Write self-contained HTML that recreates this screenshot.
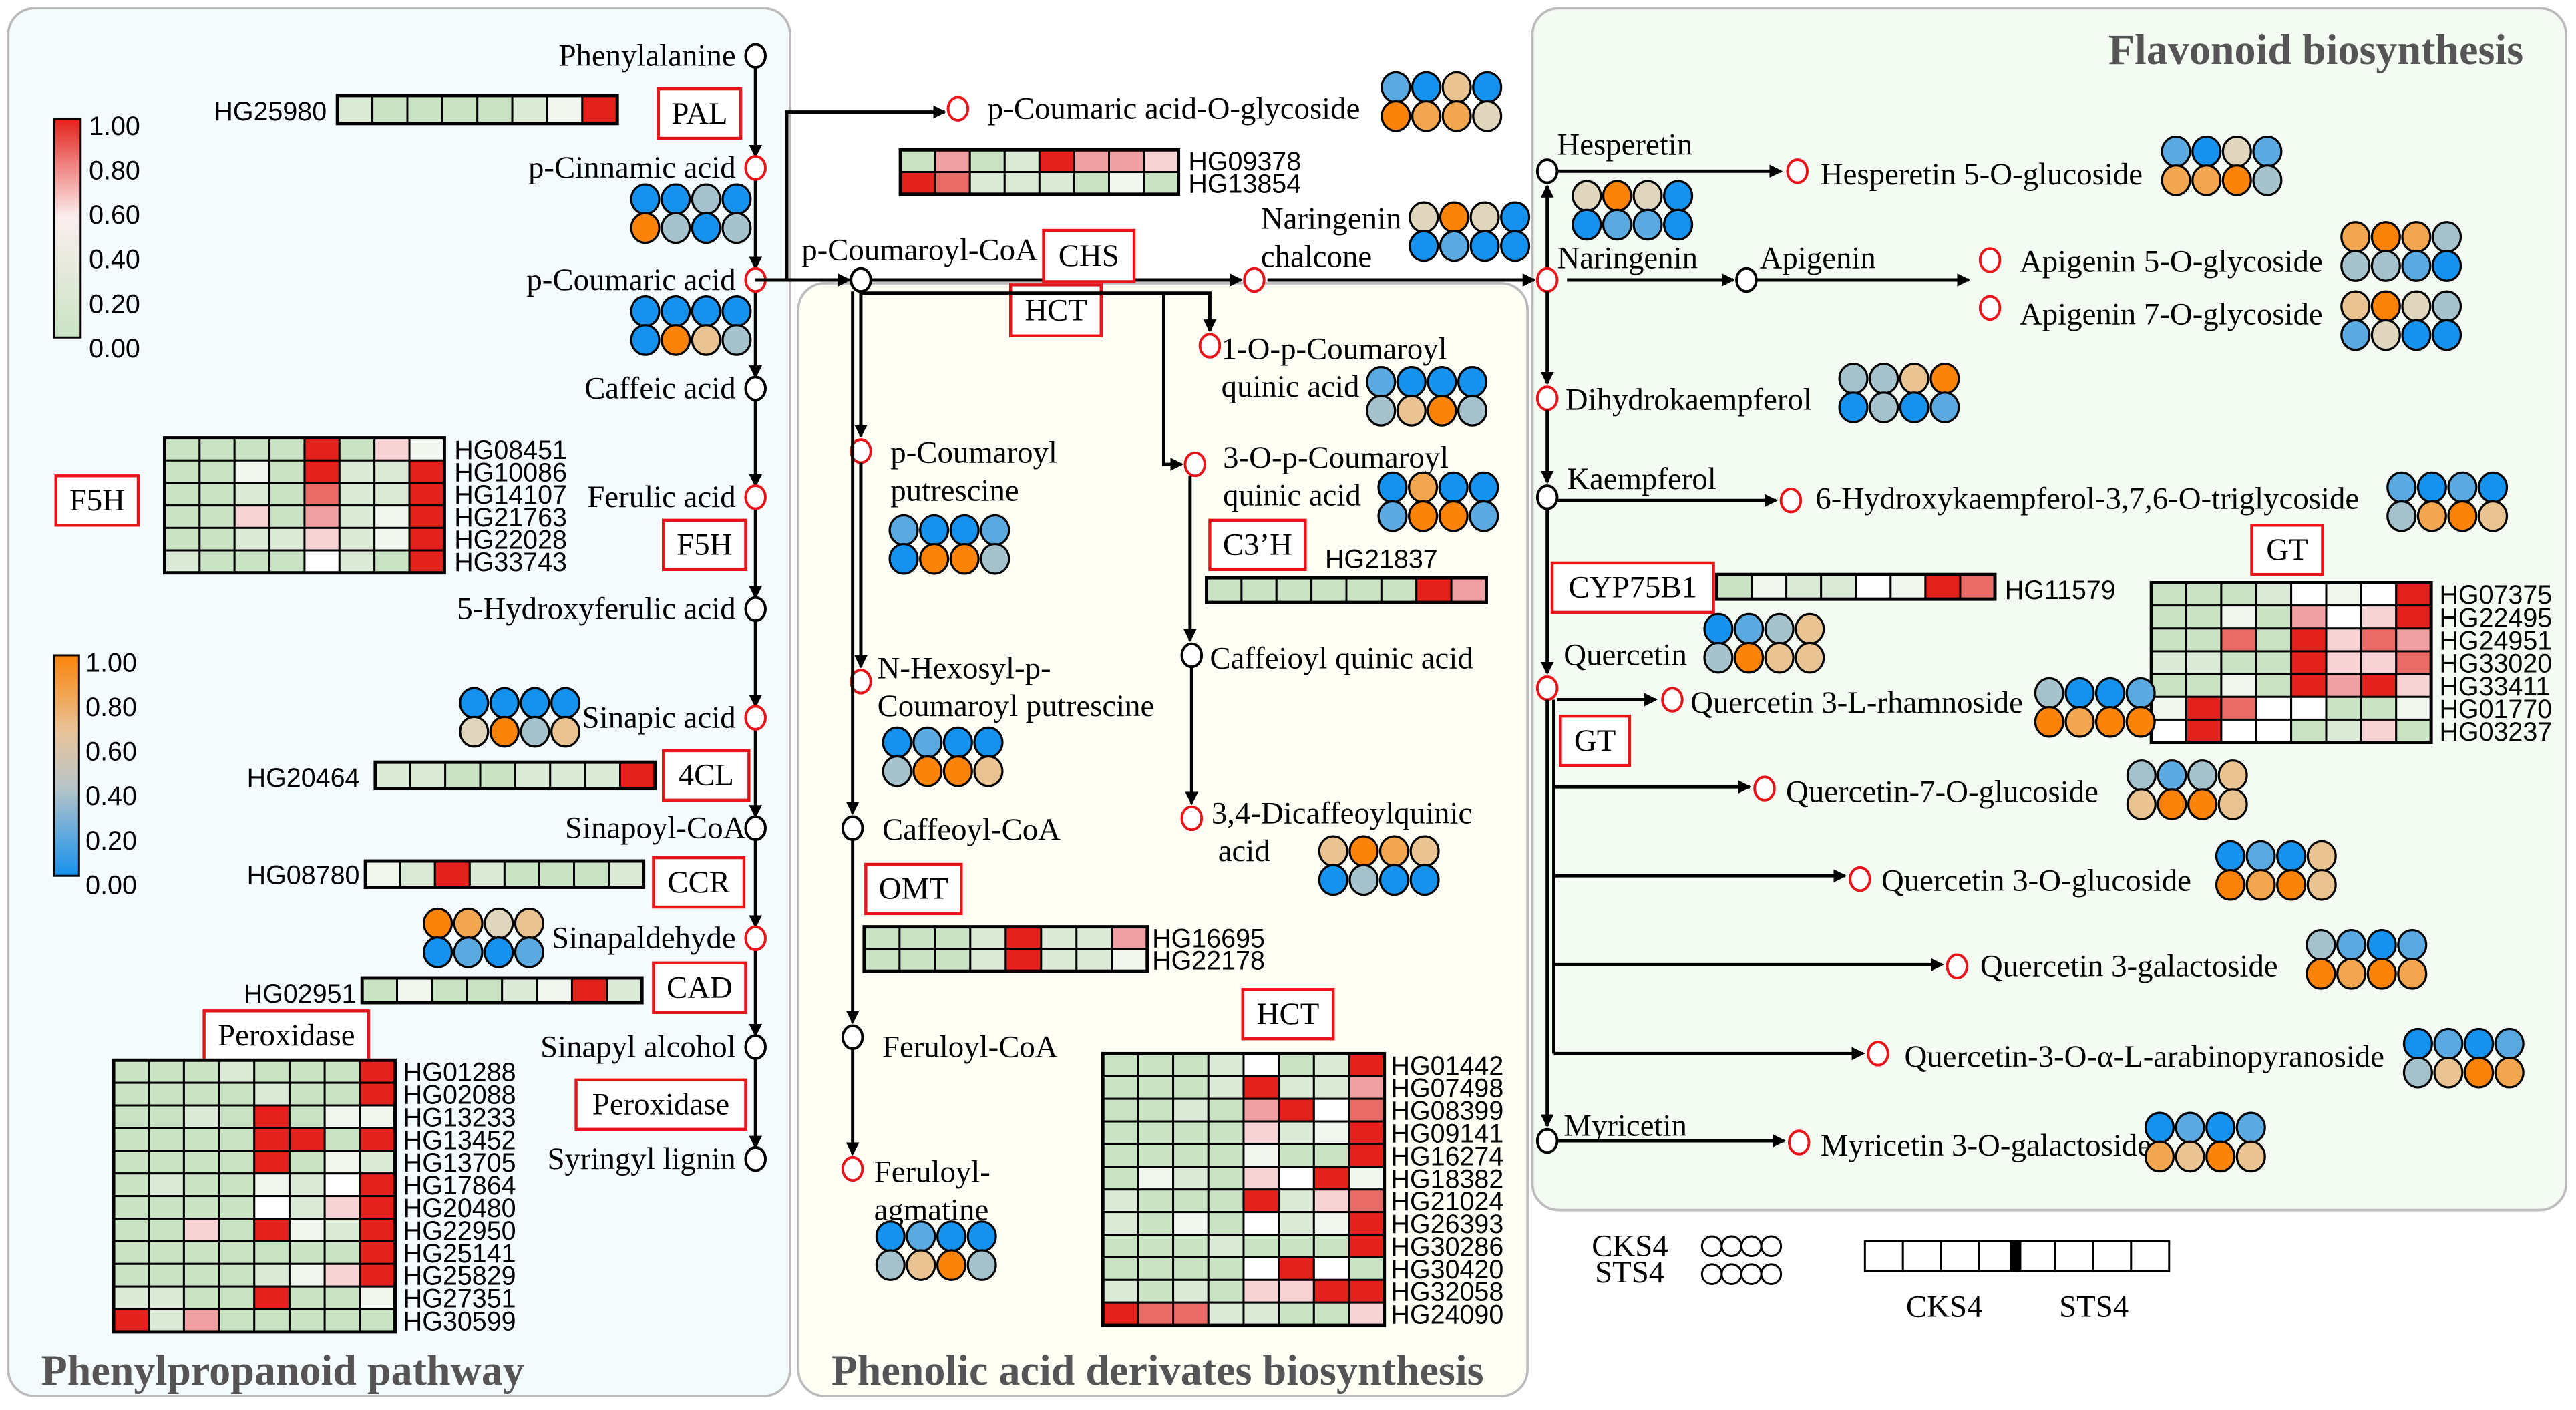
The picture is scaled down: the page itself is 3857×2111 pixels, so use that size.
<!DOCTYPE html>
<html><head><meta charset="utf-8">
<style>
html,body{margin:0;padding:0;background:#fff;}
svg{display:block;}
.s{font-family:"Liberation Serif",serif;font-size:19px;fill:#000;}
.a{font-family:"Liberation Sans",sans-serif;font-size:16px;fill:#000;}
.t{font-family:"Liberation Serif",serif;font-size:26px;font-weight:bold;fill:#555;}
</style></head>
<body>
<svg id="g" width="3857" height="2111" viewBox="0 0 1565 856.5" preserveAspectRatio="none" xmlns="http://www.w3.org/2000/svg">
<defs>
<marker id="ar" markerWidth="8" markerHeight="8" refX="7" refY="4" orient="auto" markerUnits="userSpaceOnUse"><path d="M0,0 L8,4 L0,8 z" fill="#000"/></marker>
<linearGradient id="lg1" x1="0" y1="0" x2="0" y2="1"><stop offset="0" stop-color="#e4211c"/><stop offset="0.45" stop-color="#fbeeee"/><stop offset="1" stop-color="#c9e3c4"/></linearGradient>
<linearGradient id="lg2" x1="0" y1="0" x2="0" y2="1"><stop offset="0" stop-color="#fb8309"/><stop offset="0.35" stop-color="#e8c49a"/><stop offset="0.6" stop-color="#b7c4c8"/><stop offset="1" stop-color="#1591ee"/></linearGradient>
</defs>
<rect x="5" y="5" width="475" height="843" rx="16" fill="#f3fbfd" stroke="#bbb" stroke-width="1.5"/>
<rect x="485" y="172" width="443" height="676" rx="16" fill="#fefef5" stroke="#bbb" stroke-width="1.5"/>
<rect x="931" y="5" width="628" height="730" rx="16" fill="#f3fbf3" stroke="#bbb" stroke-width="1.5"/>
<g id="c"></g>
</svg>
<script>
var NS="http://www.w3.org/2000/svg",C=document.getElementById("c");
function el(n,a,txt){var e=document.createElementNS(NS,n);for(var k in a)e.setAttribute(k,a[k]);if(txt!=null)e.textContent=txt;C.appendChild(e);return e;}
function T(x,y,s,cls,anchor){return el("text",{x:x,y:y,"class":cls||"s","text-anchor":anchor||"start"},s);}
function L(pts,arrow){el("polyline",{points:pts,fill:"none",stroke:"#000","stroke-width":2,"marker-end":arrow?"url(#ar)":""});}
function N(x,y,red){el("ellipse",{cx:x,cy:y,rx:6,ry:7,fill:"#fff",stroke:red?"#e8141a":"#000","stroke-width":1.6});}
function BX(x,y,w,h,s){el("rect",{x:x,y:y,width:w,height:h,fill:"#fff",stroke:"#e8141a","stroke-width":1.8});T(x+w/2,y+h/2+6,s,"s","middle");}
var HC={g:"#c9e3c4",h:"#dcebd8",w:"#f1f7ef",W:"#ffffff",p:"#f8d3d5",q:"#f0a0a2",r:"#ea6a68",R:"#e4211c"};
function HM(x,y,w,h,rows,labels,lx,lalign){var n=rows.length,m=rows[0].length,cw=w/m,rh=h/n;
 for(var i=0;i<n;i++)for(var j=0;j<m;j++)el("rect",{x:x+j*cw,y:y+i*rh,width:cw,height:rh,fill:HC[rows[i][j]],stroke:"#000","stroke-width":1.2});
 el("rect",{x:x,y:y,width:w,height:h,fill:"none",stroke:"#000","stroke-width":2});
 if(labels)for(var i=0;i<labels.length;i++)T(lx,y+(i+1)*rh-1,labels[i],"a",lalign);}
var CC={B:"#1591ee",L:"#5aa9e0",G:"#a6c3cd",E:"#e0d5bd",T:"#eac393",P:"#f2a650",O:"#fb8309"};
function CG(x,y,r1,r2){var rs=[r1,r2];for(var i=0;i<2;i++)for(var j=0;j<4;j++)el("ellipse",{cx:x+j*18.5,cy:y+i*17.5,rx:8.5,ry:9,fill:CC[rs[i][j]],stroke:"#000","stroke-width":1.3});}

el("rect",{x:33,y:72,width:16,height:133,fill:"url(#lg1)",stroke:"#000","stroke-width":1.2});
["1.00","0.80","0.60","0.40","0.20","0.00"].forEach(function(s,i){T(54,82+i*27,s,"a");});
el("rect",{x:33,y:398,width:15,height:134,fill:"url(#lg2)",stroke:"#000","stroke-width":1.2});
["1.00","0.80","0.60","0.40","0.20","0.00"].forEach(function(s,i){T(52,408+i*27,s,"a");});

var LN=[["Phenylalanine",34,0],["p-Cinnamic acid",102,1],["p-Coumaric acid",170,1],["Caffeic acid",236,0],["Ferulic acid",302,1],["5-Hydroxyferulic acid",370,0],["Sinapic acid",436,1],["Sinapoyl-CoA",503,0],["Sinapaldehyde",570,1],["Sinapyl alcohol",636,0],["Syringyl lignin",704,0]];
for(var i=0;i<LN.length-1;i++)L("459,"+(LN[i][1]+7)+" 459,"+(LN[i+1][1]-7),1);
LN.forEach(function(n){N(459,n[1],n[2]);T(n[0]=="Sinapoyl-CoA"?453:447,n[1]+6,n[0],"s","end");});
T(130,73,"HG25980","a");HM(205,58,170,17,["hgggghwR"]);BX(400,54,50,30,"PAL");
CG(392,121,"BBGB","OGBG");CG(392,189,"BBBB","BOTG");
HM(100,266,170,82,["ggggRgpw","ggwgRhhR","gghgrhhR","ggpgqhwR","gghhphwR","hgggWhgR"],["HG08451","HG10086","HG14107","HG21763","HG22028","HG33743"],276);
BX(34,289,50,30,"F5H");BX(403,316,50,30,"F5H");
CG(288,427,"BBBB","EOGT");
T(150,478,"HG20464","a");HM(228,463,170,16,["hhgghhhR"]);BX(403,456,52,30,"4CL");
T(150,537,"HG08780","a");HM(222,523,169,16,["whRhgggh"]);BX(397,521,55,30,"CCR");
CG(266,561,"OPET","BLBL");
T(148,609,"HG02951","a");HM(220,594,170,15,["gwgghwRh"]);BX(397,585,56,30,"CAD");
BX(124,614,100,30,"Peroxidase");BX(350,656,103,30,"Peroxidase");
HM(69,644,171,165,["ggghgggR","gggghggR","gghgRgww","ggggRRgR","ggggRgwh","ghggwhWR","ggggWhpR","ggpgRwhR","gggggggR","gggghwpR","hhggRggw","Rhqggggg"],["HG01288","HG02088","HG13233","HG13452","HG13705","HG17864","HG20480","HG22950","HG25141","HG25829","HG27351","HG30599"],245);
T(25,841,"Phenylpropanoid pathway","t");

L("459,170 478,170 478,68 574,68",1);N(582,66,1);T(600,72,"p-Coumaric acid-O-glycoside");
CG(848,53,"LBTB","OPPE");
HM(547,91,169,27,["gqghRqqp","Rrhhhgwg"],["HG09378","HG13854"],722);
L("459,170 516,170",1);N(523,170,0);L("529,170 754,170",1);N(762,170,1);L("770,170 932,170",1);
T(487,158,"p-Coumaroyl-CoA");BX(634,140,55,31,"CHS");BX(614,173,55,31,"HCT");
T(766,139,"Naringenin");T(766,162,"chalcone");CG(865,132,"EOEB","BLBB");
L("523,178 735,178 735,201",1);N(735,210,1);
L("707,178 707,282 718,282",1);N(726,282,1);
L("523,177 523,265",1);N(523,274,1);L("523,281 523,405",1);N(523,414,1);
L("518,177 518,494",1);N(518,503,0);L("518,510 518,621",1);N(518,630,0);L("518,637 518,701",1);N(518,710,1);
T(541,281,"p-Coumaroyl");T(541,304,"putrescine");CG(549,322,"LBBL","BOOG");
T(533,412,"N-Hexosyl-p-");T(533,435,"Coumaroyl putrescine");CG(545,451,"BLBB","GOOT");
T(536,510,"Caffeoyl-CoA");BX(526,525,58,30,"OMT");
HM(525,563,172,27,["ggghRhhq","ggghRhhw"],["HG16695","HG22178"],700);
T(536,642,"Feruloyl-CoA");T(531,718,"Feruloyl-");T(531,741,"agmatine");CG(541,751,"BLBB","GTOG");
T(742,218,"1-O-p-Coumaroyl");T(742,241,"quinic acid");CG(839,232,"LBBB","GTOG");
T(743,284,"3-O-p-Coumaroyl");T(743,307,"quinic acid");CG(846,296,"BPBB","LOOL");
BX(735,316,58,30,"C3’H");T(805,345,"HG21837","a");HM(733,351,170,15,["ggggggRq"]);
L("723,289 723,389",1);N(724,398,0);T(735,406,"Caffeioyl quinic acid");
L("724,405 724,488",1);N(724,497,1);T(736,500,"3,4-Dicaffeoylquinic");T(740,523,"acid");CG(810,517,"TOPT","BGBB");
BX(755,601,55,30,"HCT");
HM(670,640,171,165,["ggghWghR","ggghRhhq","gghgqRWr","ggggphwR","ggggwggR","gwhgpWRw","hgggRhpr","hgwgWhwR","ggghgggR","ggggWRWg","hghgppRR","Rrrhhggp"],["HG01442","HG07498","HG08399","HG09141","HG16274","HG18382","HG21024","HG26393","HG30286","HG30420","HG32058","HG24090"],845);
T(505,841,"Phenolic acid derivates biosynthesis","t");

T(1533,39,"Flavonoid biosynthesis","t","end");
L("940,163 940,113",1);N(940,104,0);T(946,94,"Hesperetin");
L("946,104 1082,104",1);N(1092,104,1);T(1106,112,"Hesperetin 5-O-glucoside");CG(1322,92,"LBEL","PPOG");
CG(964,119,"EOEB","BLLB");
N(940,170,1);T(946,163,"Naringenin");L("952,170 1053,170",1);N(1061,170,0);T(1069,163,"Apigenin");L("1067,170 1196,170",1);
N(1209,158,1);T(1227,165,"Apigenin 5-O-glycoside");CG(1431,144,"POPG","GGLB");
N(1209,187,1);T(1227,197,"Apigenin 7-O-glycoside");CG(1431,186,"TOEG","LEBB");
L("940,177 940,233",1);N(940,242,1);T(951,249,"Dihydrokaempferol");CG(1126,230,"GGTO","BGBL");
L("940,249 940,293",1);N(940,302,0);T(952,297,"Kaempferol");
L("946,304 1079,304",1);N(1088,304,1);T(1103,309,"6-Hydroxykaempferol-3,7,6-O-triglycoside");CG(1459,296,"LBLB","GPOT");
BX(1368,319,43,30,"GT");
BX(943,342,98,30,"CYP75B1");HM(1043,349,169,15,["gwhhWwRr"]);T(1218,364,"HG11579","a");
HM(1307,354,170,97,["ggghWwWR","ggwgqWpR","ggrgRprq","hhggRppr","ggwgRqRp","wRrWWggw","WRWWghpg"],["HG07375","HG22495","HG24951","HG33020","HG33411","HG01770","HG03237"],1482);
T(950,404,"Quercetin");CG(1044,382,"BLGT","GOTT");
L("940,309 940,409",1);N(940,418,1);BX(948,435,42,30,"GT");
L("940,425 940,684",1);N(940,693,0);
L("946,425 1006,425",1);N(1016,425,1);T(1027,433,"Quercetin 3-L-rhamnoside");CG(1245,421,"GBBL","OPOO");
L("944,425 944,640",0);
L("944,478 1063,478",1);N(1072,479,1);T(1085,487,"Quercetin-7-O-glucoside");CG(1301,471,"GLGT","TOOT");
L("944,532 1121,532",1);N(1130,534,1);T(1143,541,"Quercetin 3-O-glucoside");CG(1355,520,"BLBT","OPOT");
L("944,586 1180,586",1);N(1189,587,1);T(1203,593,"Quercetin 3-galactoside");CG(1410,574,"GLBL","OPOP");
L("944,640 1132,640",1);N(1141,640,1);T(1157,648,"Quercetin-3-O-α-L-arabinopyranoside");CG(1469,634,"BLBL","GTOP");
T(950,690,"Myricetin");L("946,693 1084,693",1);N(1093,694,1);T(1106,702,"Myricetin 3-O-galactoside");CG(1312,685,"BLBL","PTOT");
T(967,763,"CKS4","s");T(969,779,"STS4","s");
for(var j=0;j<4;j++){el("circle",{cx:1040+j*12,cy:757,r:6,fill:"#fff",stroke:"#000","stroke-width":1.2});el("circle",{cx:1040+j*12,cy:774,r:6,fill:"#fff",stroke:"#000","stroke-width":1.2});}
for(var j=0;j<8;j++)el("rect",{x:1133+j*23.1,y:754,width:23.1,height:18,fill:"#fff",stroke:"#000","stroke-width":1.2});
el("rect",{x:1221,y:754,width:7,height:18,fill:"#000"});
T(1158,800,"CKS4");T(1251,800,"STS4");
</script>
</body></html>
